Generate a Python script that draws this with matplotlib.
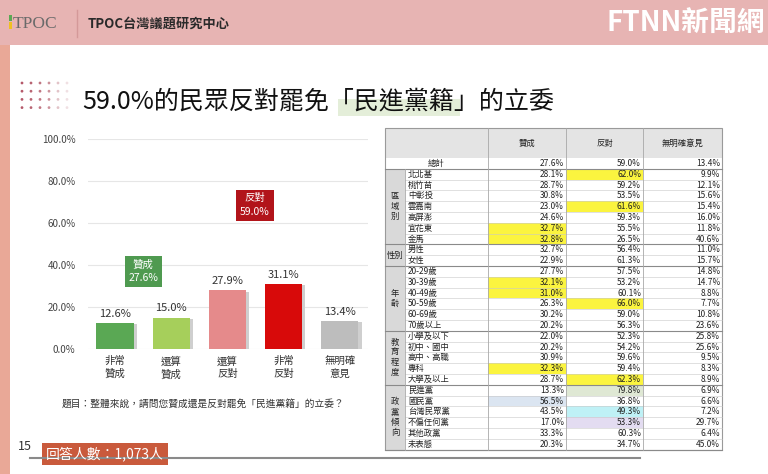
import numpy as np
import matplotlib
matplotlib.use("Agg")
import matplotlib.pyplot as plt
from matplotlib.patches import Rectangle

plt.rcParams['font.family'] = ['Noto Sans CJK TC', 'DejaVu Sans']

# ---------------- data ----------------
bar_categories = ['非常\n贊成', '還算\n贊成', '還算\n反對', '非常\n反對', '無明確\n意見']
bar_values = [12.6, 15.0, 27.9, 31.1, 13.4]
bar_colors = ['#5aa854', '#a6cf5b', '#e58a8b', '#d80a0a', '#bdbdbd']
agree_total = 27.6
oppose_total = 59.0
y_ticks = [0, 20, 40, 60, 80, 100]

table_columns = ['贊成', '反對', '無明確意見']
total_row = [27.6, 59.0, 13.4]
groups = ['區域別', '性別', '年齡', '教育程度', '政黨傾向']
group_rows = [
    ['北北基', '桃竹苗', '中彰投', '雲嘉南', '高屏澎', '宜花東', '金馬'],
    ['男性', '女性'],
    ['20-29歲', '30-39歲', '40-49歲', '50-59歲', '60-69歲', '70歲以上'],
    ['小學及以下', '初中、國中', '高中、高職', '專科', '大學及以上'],
    ['民進黨', '國民黨', '台灣民眾黨', '不偏任何黨', '其他政黨', '未表態'],
]
agree = [28.1, 28.7, 30.8, 23.0, 24.6, 32.7, 32.8,
         32.7, 22.9,
         27.7, 32.1, 31.0, 26.3, 30.2, 20.2,
         22.0, 20.2, 30.9, 32.3, 28.7,
         13.3, 56.5, 43.5, 17.0, 33.3, 20.3]
oppose = [62.0, 59.2, 53.5, 61.6, 59.3, 55.5, 26.5,
          56.4, 61.3,
          57.5, 53.2, 60.1, 66.0, 59.0, 56.3,
          52.3, 54.2, 59.6, 59.4, 62.3,
          79.8, 36.8, 49.3, 53.3, 60.3, 34.7]
no_opinion = [9.9, 12.1, 15.6, 15.4, 16.0, 11.8, 40.6,
              11.0, 15.7,
              14.8, 14.7, 8.8, 7.7, 10.8, 23.6,
              25.8, 25.6, 9.5, 8.3, 8.9,
              6.9, 6.6, 7.2, 29.7, 6.4, 45.0]
# highlighted cells: (row label, column index, colour)
highlights = [
    ('北北基', 1, '#fbf43f'), ('雲嘉南', 1, '#fbf43f'),
    ('宜花東', 0, '#fbf43f'), ('金馬', 0, '#fbf43f'),
    ('30-39歲', 0, '#fbf43f'), ('40-49歲', 0, '#fbf43f'),
    ('50-59歲', 1, '#fbf43f'), ('專科', 0, '#fbf43f'),
    ('大學及以上', 1, '#fbf43f'),
    ('民進黨', 1, '#dfe8d4'), ('國民黨', 0, '#dbe5f1'),
    ('台灣民眾黨', 1, '#bff1f6'), ('不偏任何黨', 1, '#e3dcf1'),
]

# ---------------- figure ----------------
W, H = 768, 474
fig = plt.figure(figsize=(W / 100, H / 100), dpi=100)
fig.patch.set_facecolor('white')

ov = fig.add_axes([0, 0, 1, 1], zorder=0)
ov.set_xlim(0, W)
ov.set_ylim(H, 0)
ov.axis('off')

# header band & left strip
ov.add_patch(Rectangle((0, 0), W, 45, fc='#e7b4b3', ec='none'))
ov.add_patch(Rectangle((0, 45), 10, H - 45, fc='#e9a897', ec='none'))
ov.plot([77, 77], [10, 37], color='#d49999', lw=1)
ov.text(13, 24, 'TPOC', family=['Liberation Serif'], fontsize=12.5,
        color='#6a6a6a', va='center', ha='left')
ov.add_patch(Rectangle((9, 15), 3, 6, fc='#5aa854', ec='none'))
ov.add_patch(Rectangle((9, 22), 3, 7, fc='#f0c020', ec='none'))
ov.text(88, 24, 'TPOC台灣議題研究中心', fontsize=9.5, fontweight='bold',
        color='#2a2a2a', va='center', ha='left')
ov.text(765, 23, 'FTNN新聞網', fontsize=20, fontweight='bold',
        color='white', va='center', ha='right')

# title dots
dot_colors = ['#b5596a', '#b86472', '#c07783', '#cc929b', '#e2c3c8', '#f0e0e3']
for r in range(4):
    for c in range(6):
        ov.scatter(22 + c * 9, 83 + r * 8.2, s=4, color=dot_colors[c],
                   edgecolors='none')

# title
ov.add_patch(Rectangle((338, 99), 122, 17, fc='#e4eed9', ec='none'))
ov.text(82, 101, '59.0%的民眾反對罷免「民進黨籍」的立委', fontsize=18,
        color='#111111', va='center', ha='left')

# question note
ov.text(62, 404, '題目：整體來說，請問您贊成還是反對罷免「民進黨籍」的立委？',
        fontsize=7, color='#333333', va='center', ha='left')

# footer
ov.plot([30, 640], [458, 458], color='#8a8a8a', lw=1.5)
ov.add_patch(Rectangle((42, 443), 126, 22, fc='#c95a3c', ec='none'))
ov.text(105, 454, '回答人數：1,073人', fontsize=10, color='white',
        va='center', ha='center')
ov.text(18, 447, '15', fontsize=9, color='#333333', va='center', ha='left')

# ---------------- table ----------------
col_edges = [385, 405, 488, 566, 643, 722]
head_top, head_bot = 128, 158
row_h = 10.8
fs = 6

ov.add_patch(Rectangle((col_edges[0], head_top), col_edges[-1] - col_edges[0],
                       head_bot - head_top, fc='#e4e4e4', ec='none'))
for j, name in enumerate(table_columns):
    ov.text((col_edges[j + 2] + col_edges[j + 3]) / 2, (head_top + head_bot) / 2,
            name, fontsize=fs, ha='center', va='center', color='#222222')

y = head_bot
# total row
ov.text((col_edges[0] + col_edges[2]) / 2, y + row_h / 2, '總計', fontsize=fs,
        ha='center', va='center', color='#222222')
for j, v in enumerate(total_row):
    ov.text(col_edges[j + 3] - 2, y + row_h / 2, f'{v:.1f}%', fontsize=fs,
            ha='right', va='center', color='#222222')
y += row_h
ov.plot([col_edges[0], col_edges[-1]], [y, y], color='#8a8a8a', lw=0.8)

hl = {(lab, c): col for lab, c, col in highlights}
k = 0
for g, rows in zip(groups, group_rows):
    g_top = y
    g_bot = y + row_h * len(rows)
    ov.add_patch(Rectangle((col_edges[0], g_top), col_edges[1] - col_edges[0],
                           g_bot - g_top, fc='#d9d9d9', ec='none'))
    glabel = g if g == '性別' else '\n'.join(g)
    ov.text((col_edges[0] + col_edges[1]) / 2, (g_top + g_bot) / 2, glabel,
            fontsize=fs, ha='center', va='center', color='#222222',
            linespacing=1.15)
    for lab in rows:
        vals = [agree[k], oppose[k], no_opinion[k]]
        for j, v in enumerate(vals):
            if (lab, j) in hl:
                ov.add_patch(Rectangle((col_edges[j + 2], y),
                                       col_edges[j + 3] - col_edges[j + 2], row_h,
                                       fc=hl[(lab, j)], ec='none'))
            ov.text(col_edges[j + 3] - 2, y + row_h / 2, f'{v:.1f}%', fontsize=fs,
                    ha='right', va='center', color='#222222')
        ov.text(col_edges[1] + 3, y + row_h / 2, lab, fontsize=fs, ha='left',
                va='center', color='#222222')
        y += row_h
        if lab != rows[-1]:
            ov.plot([col_edges[1], col_edges[-1]], [y, y], color='#c8c8c8', lw=0.4)
        k += 1
    ov.plot([col_edges[0], col_edges[-1]], [y, y], color='#8a8a8a', lw=0.8)

table_bot = y
for xe in col_edges[2:-1]:
    ov.plot([xe, xe], [head_top, table_bot], color='#a8a8a8', lw=0.6)
ov.plot([col_edges[1], col_edges[1]], [head_bot + row_h, table_bot],
        color='#a8a8a8', lw=0.6)
ov.add_patch(Rectangle((col_edges[0], head_top), col_edges[-1] - col_edges[0],
                       table_bot - head_top, fc='none', ec='#9a9a9a', lw=0.8))

# ---------------- bar chart ----------------
ax = fig.add_axes([88 / W, (H - 349) / H, 280 / W, 210 / H], zorder=2)
ax.patch.set_alpha(0)
x = np.arange(len(bar_values))
shadow = [v - 0.6 for v in bar_values]
ax.bar(x + 0.055, shadow, width=0.66, color='#cfcfcf', zorder=2)
ax.bar(x, bar_values, width=0.66, color=bar_colors, zorder=3)
for xi, v in zip(x, bar_values):
    ax.text(xi, v + 4.3, f'{v:.1f}%', ha='center', va='center', fontsize=8,
            color='#333333')
ax.set_xlim(-0.48, 4.5)
ax.set_ylim(0, 100)
ax.set_yticks(y_ticks)
ax.set_yticklabels([f'{t:.1f}%' for t in y_ticks], fontsize=7, color='#444444')
ax.set_xticks(x)
ax.set_xticklabels(bar_categories, fontsize=7.5, color='#333333', linespacing=1.35)
ax.tick_params(length=0, axis='y', pad=9)
ax.tick_params(length=0, axis='x', pad=5)
ax.grid(axis='y', color='#e6e6e6', lw=0.8, zorder=0)
for s in ax.spines.values():
    s.set_visible(False)

ax.text(0.5, 37, f'贊成\n{agree_total:.1f}%', ha='center', va='center',
        fontsize=7.5, color='white', linespacing=1.5,
        bbox=dict(boxstyle='square,pad=0.35', fc='#4f9a50', ec='none'))
ax.text(2.49, 68.5, f'反對\n{oppose_total:.1f}%', ha='center', va='center',
        fontsize=7.5, color='white', linespacing=1.5,
        bbox=dict(boxstyle='square,pad=0.35', fc='#b2141a', ec='none'))

fig.savefig('out.png', dpi=100)
